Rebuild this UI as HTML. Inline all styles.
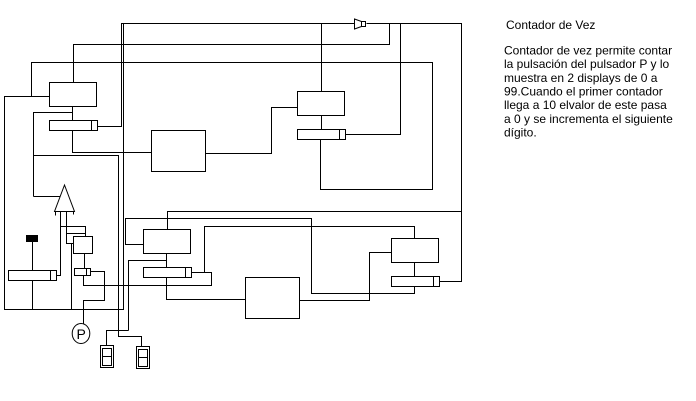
<!DOCTYPE html>
<html><head><meta charset="utf-8"><style>
html,body{margin:0;padding:0;background:#fff;width:696px;height:401px;overflow:hidden}
svg{display:block}
text{font-family:"Liberation Sans",Arial,sans-serif;font-size:12px;fill:#000}
</style></head><body>
<svg width="696" height="401" viewBox="0 0 696 401" xmlns="http://www.w3.org/2000/svg">
<rect x="0" y="0" width="696" height="401" fill="#fff"/>
<g transform="translate(0.5,0.5)" stroke="#000" fill="none" stroke-width="1" shape-rendering="crispEdges">
<polyline points="97,126 121,126 121,23 354,23"/>
<polyline points="123,23 123,309 4,309 4,96 49,96"/>
<polyline points="73,82 73,44 389,44 389,23"/>
<polyline points="31,96 31,62 432,62 432,189 320,189 320,139"/>
<polyline points="72,106 72,120"/>
<polyline points="33,196 33,112 72,112"/>
<polyline points="72,130 72,152 151,152"/>
<polyline points="205,153 271,153 271,107 297,107"/>
<polyline points="321,23 321,91"/>
<polyline points="321,115 321,129"/>
<polyline points="345,134 400,134 400,23"/>
<polyline points="366,23 461,23 461,281 439,281"/>
<polyline points="167,229 167,211 461,211"/>
<polyline points="143,244 125,244 125,218 311,218 311,293 414,293 414,286"/>
<polyline points="204,272 204,226 414,226 414,238"/>
<polyline points="414,262 414,276"/>
<polyline points="391,252 369,252 369,300 299,300"/>
<polyline points="166,277 166,299 245,299"/>
<polyline points="166,253 166,267"/>
<polyline points="128,330 128,260 166,260"/>
<polyline points="106,345 106,330 128,330"/>
<polyline points="191,272 211,272 211,285 83,285 83,275"/>
<polyline points="33,155 118,155 118,336 141,336 141,346"/>
<polyline points="33,196 60,196"/>
<polyline points="60,211 60,275 56,275"/>
<polyline points="66,211 66,243 73,243"/>
<polyline points="60,226 85,226 85,236"/>
<polyline points="66,233 85,233"/>
<polyline points="71,243 71,309"/>
<polyline points="32,241 32,270"/>
<polyline points="32,280 32,309"/>
<polyline points="84,253 84,268"/>
<polyline points="90,271 104,271 104,300 83,300 83,323"/>
<polyline points="55,211 55,215"/>
<polyline points="73,211 73,214"/>
<rect x="49" y="82" width="47" height="24"/>
<rect x="49" y="120" width="48" height="10"/><line x1="91" y1="120" x2="91" y2="130"/>
<rect x="151" y="130" width="54" height="41"/>
<rect x="297" y="91" width="47" height="24"/>
<rect x="297" y="129" width="48" height="10"/><line x1="339" y1="129" x2="339" y2="139"/>
<rect x="143" y="229" width="47" height="24"/>
<rect x="143" y="267" width="48" height="10"/><line x1="185" y1="267" x2="185" y2="277"/>
<rect x="391" y="238" width="47" height="24"/>
<rect x="391" y="276" width="48" height="10"/><line x1="433" y1="276" x2="433" y2="286"/>
<rect x="245" y="277" width="54" height="41"/>
<rect x="8" y="270" width="48" height="10"/><line x1="50" y1="270" x2="50" y2="280"/>
<rect x="73" y="236" width="19" height="17"/>
<rect x="74" y="268" width="16" height="7"/><line x1="86" y1="268" x2="86" y2="275"/>
<rect x="100" y="345" width="13" height="22"/>
<rect x="102" y="348" width="9" height="17"/><line x1="102" y1="356" x2="111" y2="356"/>
<rect x="136" y="346" width="13" height="22"/>
<rect x="138" y="349" width="9" height="17"/><line x1="138" y1="357" x2="147" y2="357"/>
<rect x="361" y="21" width="4" height="5"/>
</g>
<rect x="26" y="235" width="12" height="7" fill="#000"/>
<g stroke="#000" fill="none" stroke-width="1">
<polygon points="64.5,185 54.5,211.5 74.5,211.5"/>
<polygon points="354.5,19 361.5,21.5 361.5,26.5 354.5,29"/>
<ellipse cx="81" cy="333.5" rx="8.8" ry="10"/>
</g>
<text x="76.5" y="339" style="font-size:14px">P</text>
<text x="506" y="29">Contador de Vez</text>
<text x="504" y="54.3">Contador de vez permite contar</text>
<text x="504" y="68">la pulsación del pulsador P y lo</text>
<text x="504" y="81.8">muestra en 2 displays de 0 a</text>
<text x="504" y="95.5">99.Cuando el primer contador</text>
<text x="504" y="109.2">llega a 10 elvalor de este pasa</text>
<text x="504" y="123">a 0 y se incrementa el siguiente</text>
<text x="504" y="136.7">dígito.</text>
</svg>
</body></html>
